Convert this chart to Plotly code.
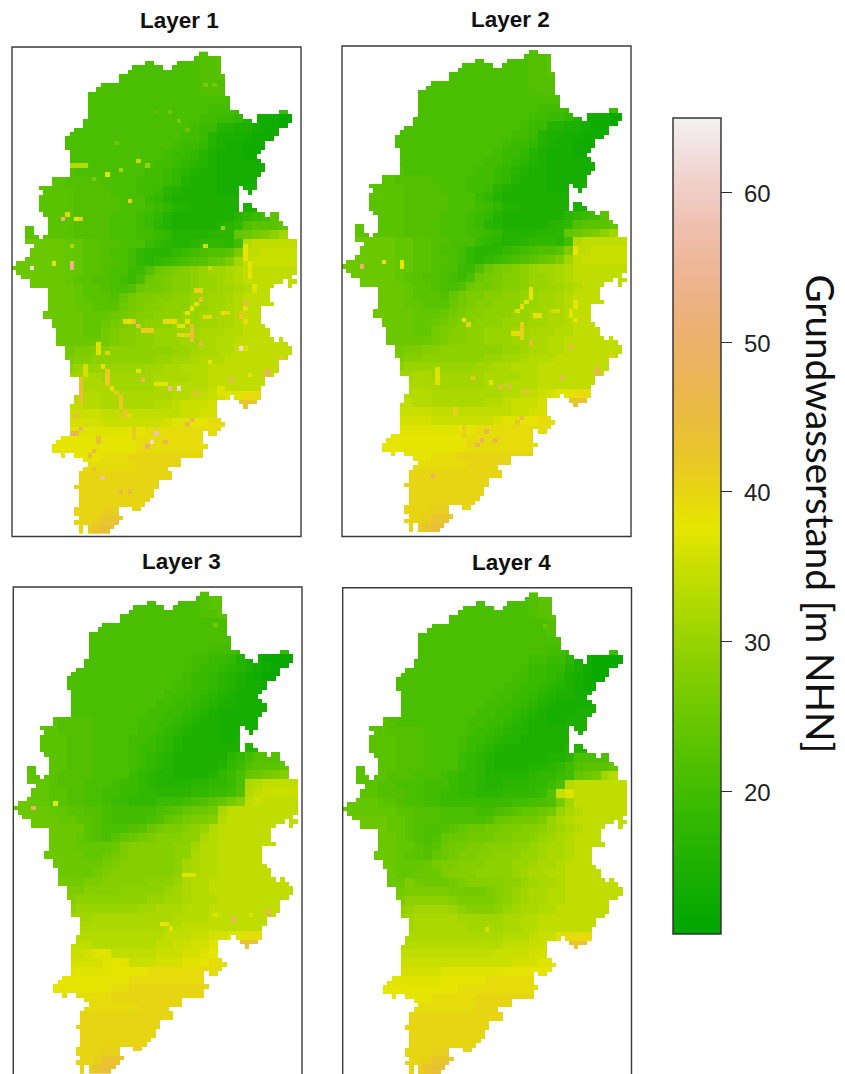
import colorsys
import numpy as np
import plotly.graph_objects as go

W, H = 845, 1074
NROWS, NCOLS = 108, 65

# Catchment outline: for each raster row, the [start, end) column spans that hold data
OUTLINE = [
 [(42,44)],[(41,47)],[(30,32),(37,47)],[(27,34),(36,47)],[(26,47)],[(24,48)],[(24,48)],[(20,48)],[(19,48)],[(17,48)],
 [(17,49)],[(17,49)],[(17,49)],[(17,51),(60,62)],[(17,52),(55,63)],[(16,54),(55,63)],[(16,62)],[(14,60)],[(13,60)],[(12,59)],
 [(12,57)],[(12,57)],[(13,56)],[(13,55)],[(13,56)],[(13,57)],[(13,57)],[(13,56)],[(9,55)],[(9,55)],
 [(6,51),(52,55)],[(7,51),(53,54)],[(6,51)],[(6,51)],[(6,51),(52,54)],[(6,51),(52,55)],[(7,57),(58,60)],[(8,60)],[(8,61)],[(3,5),(8,62)],
 [(3,5),(8,62)],[(3,6),(7,62)],[(3,64)],[(5,64)],[(4,64)],[(4,64)],[(3,64)],[(1,64)],[(0,64)],[(1,64)],
 [(2,63)],[(4,61),(62,64)],[(4,59),(62,63)],[(8,58)],[(8,58)],[(8,58)],[(8,59)],[(8,56)],[(7,56)],[(7,56)],
 [(9,56)],[(9,57)],[(10,58)],[(10,58)],[(10,59),(60,61)],[(10,62)],[(12,63)],[(12,63)],[(12,62)],[(13,60)],
 [(13,60)],[(13,60)],[(13,59)],[(15,57)],[(15,57)],[(15,56)],[(15,56)],[(14,49),(50,56)],[(14,46),(51,55)],[(13,46),(52,53)],
 [(13,46)],[(13,46)],[(13,47)],[(13,48)],[(13,47)],[(13,43),(44,46)],[(11,43)],[(10,43)],[(9,44)],[(9,43)],
 [(11,12),(14,43)],[(16,38)],[(17,38)],[(16,35)],[(15,36)],[(15,36)],[(15,33)],[(14,33)],[(15,32)],[(15,32)],
 [(15,31)],[(15,30)],[(14,24),(27,29)],[(14,24)],[(15,25)],[(14,24)],[(15,16),(17,23)],[(15,16),(17,22)],
]

# Water level codes per 2x2 raster block: 0=11 m, 1=12 m ... 9=20 m, a=21 m ... z=46 m
CODES = "0123456789abcdefghijklmnopqrstuvwxyz"

SOUTH_ROWS = [
 "ttttt ttttt ttttt ttttt ttttt ttttt ttt",
 "ttttt ttttt ttttt ttttt ttttt ttttt ttt",
 "ttttt ttttt ttttt ttttt ttttt ttttt ttt",
 "ttttt ttttt ttttt ttttt ttttt ttttt ttt",
 "ttttt ttttt uuttt ttttt ttttt ttttt ttt",
 "ttttt ttttu wwvvt ttttt ttttt ttttt ttt",
 "ttttt tttuw xxwvt ttttt ttttt ttttt ttt",
]

LAYER_1_ROWS = [
 "aaaaa aaaaa aaaaa aaaaa abbcc ccccc ccc",
 "aaaaa aaaaa aaaaa aaaaa abbcc ccccc ccc",
 "aaaaa aaaaa aaaaa aaaaa abbcc ccccc ccc",
 "aaaaa aaaaa aaaaa aaaaa abbbc ccccc ccc",
 "aaaaa aaaaa aaaaa aaaaa abbba aaaaa aaa",
 "aaaaa aaaaa aaaaa aaaaa aaaaa 99999 999",
 "aaaaa aaaaa aaaaa aaaaa aa999 88888 888",
 "aaaaa aaaaa aaaaa aaaaa a9988 75222 111",
 "aaaaa aaaaa aaaaa aaaaa 98855 44322 111",
 "aaaaa aaaaa aaaaa aaaa9 98544 33222 111",
 "bbbbb baaaa aaaaa aaa98 87543 32222 222",
 "bbbbb baaaa aaaaa aa988 75433 32222 222",
 "bbbbb baaaa aaaaa a9987 65433 33333 333",
 "bbbbb bbaaa aaaaa 99876 54433 33333 333",
 "ccccc cbbbb aaaa9 99875 44433 33344 444",
 "ccccc ccbbb baaa9 98654 44433 33444 444",
 "ccccc ccbbb bbaaa 87544 44444 44444 444",
 "ccccc ccbbb bbaaa 98755 44444 44455 666",
 "ccccc ccbbb baaa9 87544 44444 6789c ccc",
 "ccccc ccbbb baaa9 86544 44456 7bccc def",
 "ccccc ccbbb baaa9 98755 55666 defgi kln",
 "eeeee eddcc bbaaa 87655 67776 9mnnn nnn",
 "eeeee eddcc baa97 66678 9abbc gnnoo ooo",
 "eeeee eddcc bba97 6789a bcdeg knooo ooo",
 "eeeee eddcc baa88 befgh ijkkl mnnnn nnn",
 "eeeee edccb ba98a efghh ijjkl mnnnn nnn",
 "eeeee eedcc baabe ffghh ijjkk lmnnn nnn",
 "eeeee eedcc cbdfg ghhii jjkkl mnnnn nnn",
 "eeeee eeddc ccefg hhiii jjkkl mnnnn nnn",
 "eeeee eeedd defgh hiiij jkkll mnnnn nnn",
 "eeeee eeedd efghh iiijj jkkll mnnnn nnn",
 "eeeee eeedd fghhi ijjjk klllm mnnnn nnn",
 "eeeee eeeee fghhi ijjjk kllmm nnnnn nnn",
 "fffff ffggh hiiii iiijj kllmm nnnnn nnn",
 "fffff fghhi iiiii ijjkk lmmmn nnnnn nnn",
 "ggggg hijjj jjjjj kkllm mmnnn nnnnn nnn",
 "jjjjj jkkll kkkkk kllll mmnnn nnnnn nnn",
 "lllll lllll lkkkk kllmm mmnnn nnnnn nnn",
 "mmmmm mmmmm lllll lllmm nnopq qssss sss",
 "nnnnn nnnmm lllll lmmno ooppq wwwww www",
 "ooooo ooooo nnnnn nnnno oppqs sssss sss",
 "ppppp ppppp ooooo oopqq rrsss sssss sss",
 "qqqqq qqqqq qqqrr sssss sssss sssss sss",
 "rrrrr rrrrr rrrrs sssss sssss sssss sss",
 "rrrrr rrrrr rrrrs sssss sssss sssss sss",
 "rrrrr rrrrr ssstt ttttt ttttt ttttt ttt",
 "sssss sssss sssst ttttt ttttt ttttt ttt",
] + SOUTH_ROWS

LAYER_2_ROWS = LAYER_1_ROWS

LAYER_3_ROWS = [
 "aaaaa aaaaa aaaaa aaaaa abccc ccccc ccc",
 "aaaaa aaaaa aaaaa aaaaa abccc ccccc ccc",
 "aaaaa aaaaa aaaaa aaaaa abbcc ccccc ccc",
 "aaaaa aaaaa aaaaa aaaaa aaaab bbbbb bbb",
 "aaaaa aaaaa aaaaa aaaaa aaaab bbbbb bbb",
 "aaaaa aaaaa aaaaa aaaaa aaaaa 99999 999",
 "aaaaa aaaaa aaaaa aaaaa aa999 88888 888",
 "aaaaa aaaaa aaaaa aaaaa 99887 53211 111",
 "aaaaa aaaaa aaaaa aaaaa 98876 54321 111",
 "aaaaa aaaaa aaaaa aaaa9 88765 43211 111",
 "aaaaa aaaaa aaaaa aaa99 88765 43322 111",
 "bbbaa aaaaa aaaaa aa998 87654 33322 222",
 "bbbaa aaaaa aaaaa a9988 76544 33333 333",
 "bbbba aaaaa aaaaa 99887 65433 33333 333",
 "ccccc bbbba aaaa9 98876 54433 33333 333",
 "ccccc bbbba aaaa9 98765 44433 33333 333",
 "ccccc cbbba aaa99 87654 44433 44444 444",
 "ccccc cbbba aaa98 87654 44444 45555 555",
 "ccccc cbbba aaa98 76544 44446 79bbb ccc",
 "ccccc cbbba aaa98 76544 44457 8bccc def",
 "ddccc bbbba aaa87 65544 44578 adefg hjk",
 "ddddc bbbaa a9887 65555 66778 almnn nnn",
 "ddddc cbbaa 99887 76666 77889 bmnoo ooo",
 "eeddc cbbaa 98877 78889 abcdf hnonn nnn",
 "eeeed dccbb a9999 9abcd eefln nnnnn nnn",
 "eeeee ddccb a9999 abdef gghmn nnnnn nnn",
 "eeeee eeecb aaabc efggh ijmnn nnnnn nnn",
 "eeeee eedcb acdef ghhhi ilmnn nnnnn nnn",
 "eeeee eeddd deghh hhhii kmmnn nnnnn nnn",
 "eeeee eeedd efghh hhhii lmmnn nnnnn nnn",
 "eeeee eeeee fghhh hhhik lmmnn nnnnn nnn",
 "eeeee eeeef ghhhh hhhik lmmnn nnnnn nnn",
 "fffff fffgg hhhhh iiijl mmnnn nnnnn nnn",
 "fffff ggghh hhiii iijkl mmnnn nnnnn nnn",
 "ggggg hhiii iiiii jjkkl mmmnn nnnnn nnn",
 "hhhhh iijjj jjjjk klllm mmnnn nnnnn nnn",
 "jjjjj kkkkl lllll lllmm mmnnn nnnnn nnn",
 "lllll lllll lllll llmmn nnnnn nnnnn nnn",
 "mmmmm mmmmm mmmmm mmnnn ooppq qssss sss",
 "nnnnn nnnnm mmmmm mnnoo ppqqr wwwww www",
 "ooooo ooopq qnnnn nooop pqrss sssss sss",
 "ppppp ppppp qrqoo opppq qrsss sssss sss",
 "qqqqq qqqqq qrrrr sssss sssss sssss sss",
 "rrrrr rrrrr rrrss sssss sssss sssss sss",
 "rrrrr rrrrr rsstt ttttt ttttt ttttt ttt",
 "sssss sssss stttt ttttt ttttt ttttt ttt",
 "sssss sssss sssst ttttt ttttt ttttt ttt",
] + SOUTH_ROWS

LAYER_4_ROWS = [
 "aaaaa aaaaa aaaaa aaaaa abccc ccccc ccc",
 "aaaaa aaaaa aaaaa aaaaa abccc ccccc ccc",
 "aaaaa aaaaa aaaaa aaaaa abccc ccccc ccc",
 "aaaaa aaaaa aaaaa aaaaa aaabc ccccc ccc",
 "aaaaa aaaaa aaaaa aaaaa aaabb bbbbb bbb",
 "aaaaa aaaaa aaaaa aaaaa aaaaa aaaaa aaa",
 "aaaaa aaaaa aaaaa aaaaa aaa99 88888 888",
 "aaaaa aaaaa aaaaa aaaaa a9988 63211 111",
 "aaaaa aaaaa aaaaa aaaaa 98877 54211 111",
 "aaaaa aaaaa aaaaa aaaa9 98876 43211 111",
 "aaaaa aaaaa aaaaa aaa99 88765 43222 111",
 "bbbaa aaaaa aaaaa aa998 87654 43322 222",
 "bbbaa aaaaa aaaaa a9988 76543 33333 333",
 "bbbba aaaaa aaaaa 99887 65433 34444 444",
 "bbbbb baaaa aaaa9 98876 54433 44444 444",
 "ccccc bbbba aaaa9 88765 54444 44444 444",
 "ccccc cbbba aaa98 87655 44444 44444 444",
 "ccccc cbbba aaa98 76544 44444 55556 666",
 "ccccc cbbba aaa87 65444 44455 6aaaa bbb",
 "ccccc cbbba aaa87 65444 45567 9bccc def",
 "ccccc bbbaa a9877 65555 56778 9defk mnn",
 "ccccb baaa9 99877 65566 6778a mnnnn nnn",
 "ddccb bbaa9 98877 66677 778bo qnnnn nnn",
 "ddddc cbaa9 98888 88889 9aabf knnnn nnn",
 "ddddd dccbb baaaa 99abc ddefj lmnnn nnn",
 "eeeee ddcbb baaaa abdef ffgjl mnnnn nnn",
 "eeeee ddcba abcde effgg hhijk lmnnn nnn",
 "eeeee edcba bdeef ffggh hijkl mnnnn nnn",
 "eeeee eddcb ceffg ghhhi ijkll mnnnn nnn",
 "eeeee edccb defgg hhiii jjkll mnnnn nnn",
 "eeeee eddde fgghh hiiij jkllm nnnnn nnn",
 "eeeee eddee eghhh iiiij kllmm nnnnn nnn",
 "eeeee eegfe eefgh hhhii jkllm nnnnn nnn",
 "eeeee efggg ggfff fghij kllmm nnnnn nnn",
 "fffff fgiii iihgg gghij kllmm nnnnn nnn",
 "ggggg hijkk kkjih hhijk llmmn nnnnn nnn",
 "jjjjj jjkll lllkk kkkll mmnnn nnnnn nnn",
 "kkkkk kkkll llllk kkkll mmnnn nnnnn nnn",
 "lllll lllll lllll lllmm mnooq sssss sss",
 "mmmmm mmmmm mmmmm mmmnn nooop wwwww www",
 "nnnnn nnnnn nnnnn nnooo oppqq sssss sss",
 "ooooo ooooo ooooo oooop ppqqr sssss sss",
 "ppppp ppppp pqqqq qqqrr rrrrs sssss sss",
 "qqqqq qqqqq qrrrr rssss sssss sssss sss",
 "rrrrr rrrrr rrrss sssss sssss sssss sss",
 "rrrrr rrrrr sssss ttttt ttttt ttttt ttt",
 "sssss sssss sssss ttttt ttttt ttttt ttt",
] + SOUTH_ROWS

# Single cells that stand out from their surroundings: (column, row, metres)
CELLS_1 = [
 (43,7,27),(45,7,26),(35,13,26),(32,13,23),(37,15,26),(39,17,25),(23,20,25),(13,25,33),(14,25,33),(15,25,33),(16,25,33),
 (28,24,34),(30,25,30),(24,26,31),(21,27,38),(18,28,27),(26,33,41),(12,36,40),(11,37,51),(14,37,38),(15,37,41),(13,43,32),
 (43,43,36),(47,39,30),(9,47,38),(4,48,62),(13,47,53),(13,48,53),(44,48,34),(52,43,38),(52,44,38),(52,45,38),(52,46,38),
 (53,47,38),(53,48,38),(53,49,38),(53,50,38),(25,60,39),(26,60,38),(27,60,43),(28,61,45),(29,62,40),(30,62,42),(31,62,41),
 (34,60,39),(35,60,39),(36,60,39),(37,61,37),(38,61,38),(40,61,44),(40,62,44),(40,63,44),(40,64,44),(37,63,40),(38,63,40),(39,63,40),
 (39,60,38),(39,58,38),(40,57,38),(41,56,38),(42,55,44),(42,53,41),(41,53,40),(42,65,46),(43,59,39),(44,59,39),(47,58,38),(48,58,40),
 (54,52,38),(54,53,37),(52,56,46),(51,58,43),(51,59,43),(52,57,38),(52,60,39),(51,66,62),(52,66,37),(44,69,38),(60,68,42),
 (57,71,48),(57,72,48),(53,72,38),(49,73,49),(29,73,47),(28,71,38),(19,65,37),(19,66,37),(19,67,37),(21,67,36),(16,70,36),(16,71,36),(16,72,36),
 (15,73,44),(15,74,44),(15,75,44),(15,76,44),(15,77,44),(15,78,44),(20,70,38),(21,71,42),(21,72,42),(21,73,42),(21,74,42),(22,75,38),(23,76,42),
 (24,77,42),(24,78,42),(24,79,42),(25,80,43),(25,81,43),(26,81,40),(27,84,42),(27,85,42),(27,86,42),(32,74,38),(33,74,38),(34,74,38),(35,75,55),(37,75,62),
 (41,76,46),(14,81,45),(15,84,50),(13,85,47),(14,85,47),(19,86,44),(19,87,44),(18,89,45),(17,90,45),(20,95,58),(24,98,46),(26,98,45),(18,93,44),
 (32,85,58),(31,87,62),(30,88,50),(34,87,48),(39,83,45),(40,82,47),(46,75,37),(47,75,37),(46,76,37),(47,76,37),
]
CELLS_2 = [
 (9,47,38),(4,48,50),(13,47,38),(13,48,38),(52,44,38),(52,45,38),(27,60,38),(28,61,40),(42,53,38),(42,54,38),(42,55,38),(41,56,38),
 (40,57,37),(39,58,37),(43,59,38),(44,59,38),(47,58,36),(48,58,36),(52,56,38),(52,57,38),(51,58,38),(51,59,38),(52,60,38),(40,61,41),
 (40,62,41),(40,63,41),(40,64,41),(38,63,39),(39,63,39),(42,65,45),(51,66,47),(60,68,42),(57,71,47),(57,72,47),(49,73,49),(29,73,43),
 (35,75,48),(37,75,49),(41,76,45),(33,74,38),(32,85,47),(31,87,47),(30,88,48),(34,87,46),(40,82,45),(39,83,43),(20,95,48),
 (27,84,41),(27,85,41),(27,86,41),(25,80,41),(25,81,41),(21,71,37),(21,72,37),(21,73,37),(21,74,37),
]
CELLS_3 = [
 (4,48,50),(9,47,38),(45,7,26),(49,73,49),(57,71,48),(57,72,48),(33,74,38),(34,74,38),(35,75,38),(38,63,37),(39,63,37),(40,63,37),
 (53,72,37),(45,72,37),
]
CELLS_4 = [(45,7,25),(32,75,36)]

TITLES = ["Layer 1", "Layer 2", "Layer 3", "Layer 4"]
TICK_VALUES = [20, 30, 40, 50, 60]
Z_MIN, Z_MAX = 10.45, 65.0
COLORBAR_TITLE = "Grundwasserstand [m NHN]"


def raster(rows, cells):
    blocks = [r.replace(" ", "") for r in rows]
    z = np.full((NROWS, NCOLS), np.nan)
    for r, spans in enumerate(OUTLINE):
        row = blocks[r // 2]
        for a, b in spans:
            for c in range(a, b):
                z[r, c] = 11 + CODES.index(row[min(c // 2, len(row) - 1)])
    for c, r, v in cells:
        if not np.isnan(z[r, c]):
            z[r, c] = v
    return z


def terrain_scale(n=24):
    stops = []
    for i in range(n + 1):
        t = i / n
        if t <= 0.5:
            f = t / 0.5
            h, s, v = (4 - 2 * f) / 12, 1.0, 0.65 + 0.25 * f
        else:
            f = (t - 0.5) / 0.5
            h, s, v = (2 - 2 * f) / 12, 1.0 - f, 0.90 + 0.05 * f
        rgb = colorsys.hsv_to_rgb(h, s, v)
        stops.append([t, "rgb(%d,%d,%d)" % tuple(round(x * 255) for x in rgb)])
    return stops


# pixel frames: left, right, top, bottom
FRAMES = [(12, 301, 47, 536.5), (342, 631, 46, 536.5), (13.3, 302, 587, 1077), (342.7, 631.5, 587.7, 1077.5)]
ROW_TOP = [-1.05, -0.9, -1.05, -1.05]
TITLE_POS = [(179, 21), (510, 20), (181, 561), (511, 562)]
LAYERS = [(LAYER_1_ROWS, CELLS_1), (LAYER_2_ROWS, CELLS_2), (LAYER_3_ROWS, CELLS_3), (LAYER_4_ROWS, CELLS_4)]
BAR_TOP, BAR_LEN = 118, 816

fig = go.Figure()
CELL_H = 4.467
for i, ((rows, cells), (x0, x1, y0, y1)) in enumerate(zip(LAYERS, FRAMES)):
    n = "" if i == 0 else str(i + 1)
    z = raster(rows, cells)
    fig.add_trace(go.Heatmap(
        z=z, x=np.arange(NCOLS) + 0.5, y=np.arange(NROWS) + 0.5,
        coloraxis="coloraxis", xaxis="x" + n, yaxis="y" + n, hoverongaps=False,
    ))
    y_end = min(y1, H)
    row_bottom = ROW_TOP[i] + (y_end - y0) / CELL_H
    fig.update_layout({
        "xaxis" + n: dict(domain=[x0 / W, x1 / W], range=[0, 65], visible=False, anchor="y" + n),
        "yaxis" + n: dict(domain=[1 - y_end / H, 1 - y0 / H], range=[row_bottom, ROW_TOP[i]], visible=False, anchor="x" + n),
    })
    fig.add_shape(type="rect", xref="paper", yref="paper", x0=x0 / W, x1=x1 / W, y0=1 - y1 / H, y1=1 - y0 / H,
                  line=dict(color="#3a3a3a", width=1.4), fillcolor="rgba(0,0,0,0)", layer="above")
    tx, ty = TITLE_POS[i]
    fig.add_annotation(text="<b>%s</b>" % TITLES[i], xref="paper", yref="paper", x=tx / W, y=1 - ty / H,
                       showarrow=False, xanchor="center", yanchor="middle",
                       font=dict(family="Liberation Sans", size=22.5, color="#111111"))

# colour bar tick labels, placed from the same value scale as the bar
for v in TICK_VALUES:
    py = BAR_TOP + (Z_MAX - v) / (Z_MAX - Z_MIN) * BAR_LEN
    fig.add_annotation(text=str(v), xref="paper", yref="paper", x=742 / W, y=1 - (py + 1) / H,
                       showarrow=False, xanchor="left", yanchor="middle", xshift=0,
                       font=dict(family="Liberation Sans", size=24, color="#222222"))

fig.add_annotation(text=COLORBAR_TITLE, xref="paper", yref="paper", x=820.5 / W, y=1 - 514 / H, textangle=90,
                   showarrow=False, xanchor="center", yanchor="middle",
                   font=dict(family="Lato", size=38.6, color="#111111"))

fig.update_layout(
    width=W, height=H, margin=dict(l=0, r=0, t=0, b=0), paper_bgcolor="white", plot_bgcolor="white",
    coloraxis=dict(
        cmin=Z_MIN, cmax=Z_MAX, colorscale=terrain_scale(),
        colorbar=dict(
            x=673 / W, xanchor="left", xpad=0, ypad=0, y=1 - BAR_TOP / H, yanchor="top",
            len=BAR_LEN, lenmode="pixels", thickness=48, thicknessmode="pixels",
            outlinecolor="#2a2a2a", outlinewidth=1.4,
            tickmode="array", tickvals=TICK_VALUES, ticks="outside", ticklen=11, tickwidth=1.4, tickcolor="#2a2a2a",
            showticklabels=False,
        ),
    ),
)
fig.write_html("out.html", config={"displayModeBar": False},
               post_script="document.body.style.margin='0';document.documentElement.style.overflow='hidden';")
